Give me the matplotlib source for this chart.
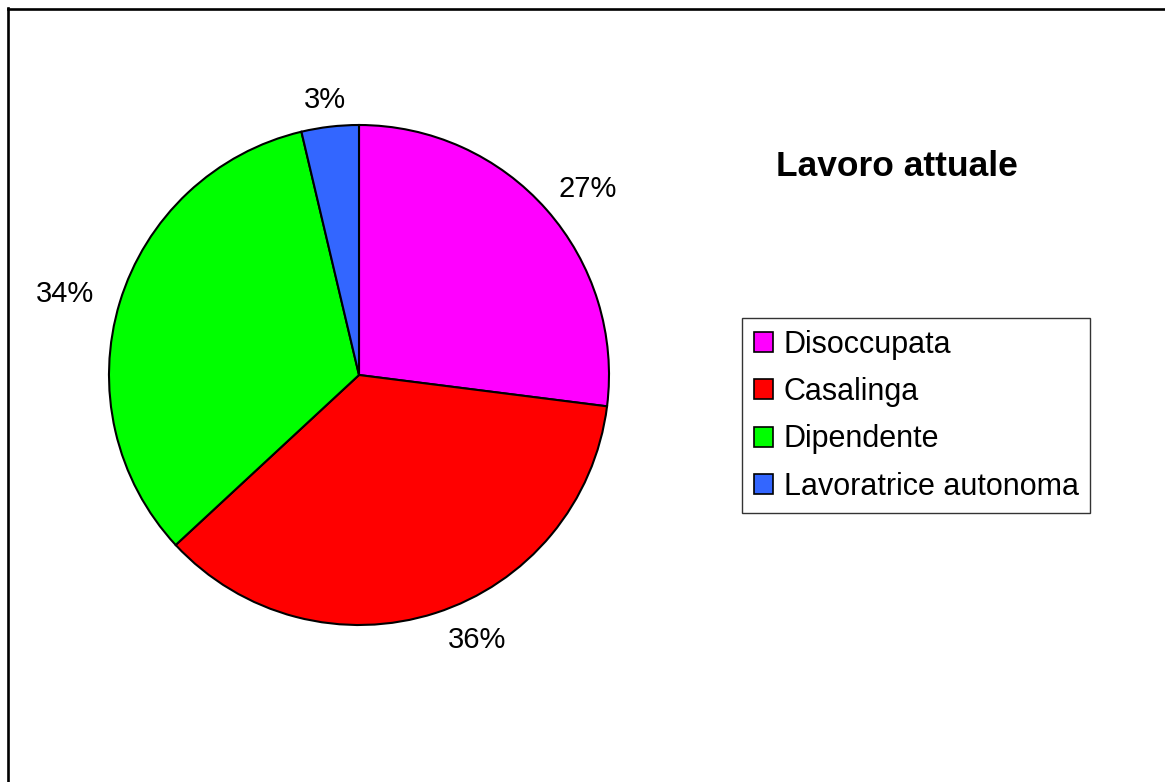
import numpy as np
import matplotlib
matplotlib.use("Agg")
import matplotlib.pyplot as plt
from matplotlib.patches import Patch
from matplotlib.lines import Line2D

plt.rcParams['font.family'] = ['Liberation Sans', 'DejaVu Sans']

categories = ["Disoccupata", "Casalinga", "Dipendente", "Lavoratrice autonoma"]
values = [27.0, 36.1, 33.2, 3.7]
pct_labels = ["27%", "36%", "34%", "3%"]
colors = ["#FF00FF", "#FF0000", "#00FF00", "#3366FF"]
title = "Lavoro attuale"

# label placement style (distance in radii, angular nudge in degrees)
label_dist = [1.18, 1.16, 1.22, 1.11]
label_nudge = [-2.3, 6.2, 1.5, 0.4]

W, H = 1165, 782
fig = plt.figure(figsize=(W / 100, H / 100), dpi=100)
fig.patch.set_facecolor("white")

# outer frame (left and top edges visible)
fig.add_artist(Line2D([7.5 / W, 7.5 / W], [0, 1 - 8 / H], transform=fig.transFigure,
                      color="black", lw=1.9))
fig.add_artist(Line2D([7.5 / W, 1.0], [1 - 8.5 / H, 1 - 8.5 / H], transform=fig.transFigure,
                      color="black", lw=1.9))

cx, cy, r = 359, 375, 250
ax = fig.add_axes([(cx - r) / W, (H - cy - r) / H, 2 * r / W, 2 * r / H])
wedges, _ = ax.pie(values, colors=colors, startangle=90, counterclock=False,
                   wedgeprops=dict(edgecolor="black", linewidth=1.5))
for w, lab, d, nud in zip(wedges, pct_labels, label_dist, label_nudge):
    ang = np.deg2rad((w.theta1 + w.theta2) / 2 + nud)
    ax.text(d * np.cos(ang), d * np.sin(ang), lab, ha="center", va="center",
            fontsize=21, color="black")
ax.set_xlim(-1, 1)
ax.set_ylim(-1, 1)
ax.set_aspect("equal")
ax.axis("off")

fig.text(897 / W, 1 - 166 / H, title, ha="center", va="center",
         fontsize=25.5, fontweight="bold")

handles = [Patch(facecolor=c, edgecolor="black", linewidth=1.2) for c in colors]
leg = fig.legend(handles, categories, loc="upper left",
                 bbox_to_anchor=(742 / W, 1 - 318 / H), bbox_transform=fig.transFigure,
                 fontsize=22, frameon=True, fancybox=False, shadow=False,
                 handlelength=0.65, handleheight=0.65, handletextpad=0.33,
                 labelspacing=0.57, borderpad=0.38, borderaxespad=0)
leg.get_frame().set_edgecolor("black")
leg.get_frame().set_linewidth(1.0)

fig.savefig("out.png", dpi=100, facecolor="white")
